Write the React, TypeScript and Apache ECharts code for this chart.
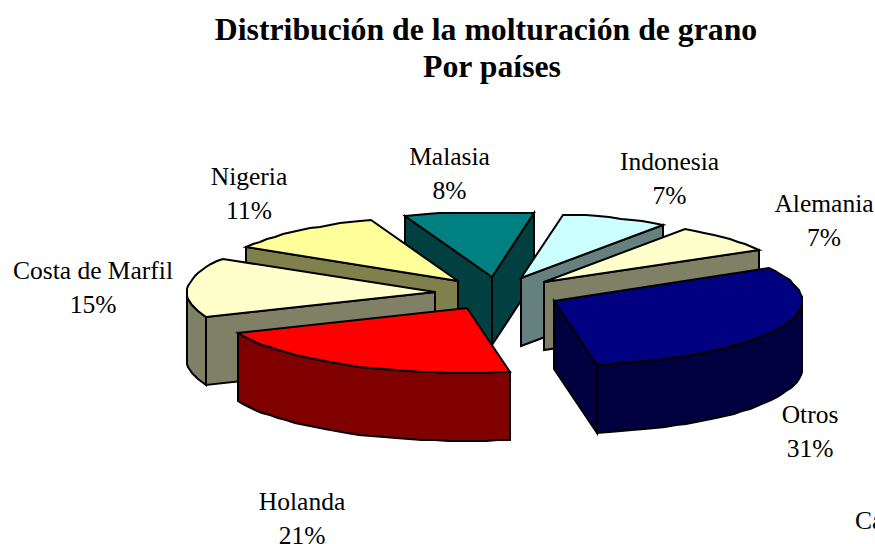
import React, { useEffect, useRef } from "react";
import * as echarts from "echarts";

const titleLines = ["Distribución de la molturación de grano", "Por países"];
const categories = ["Otros", "Holanda", "Costa de Marfil", "Nigeria", "Malasia", "Indonesia", "Alemania"];
const values = [31, 21, 15, 11, 8, 7, 7];
const topColors = ["#000080", "#FF0000", "#FFFFCC", "#FFFF99", "#008080", "#CCFFFF", "#FFFFCC"];
const sideColors = ["#000040", "#800000", "#808066", "#80804D", "#004040", "#668080", "#808066"];
const clippedLabel = "Ca";

// view geometry
const START_DEG = 60;
const CX = 497.6, CY = 293.5;
const RX = 248, RY = 65, DEPTH = 68, BACK_LIMIT = 63.5;
const EXPLODE_X = 62.7, EXPLODE_Y = 16.6;
const DRAW_ORDER = [4, 5, 3, 6, 2, 0, 1];
const LABEL_POS: Record<string, [number, number]> = {
  Otros: [810, 431],
  Holanda: [302, 518],
  "Costa de Marfil": [93, 287],
  Nigeria: [249, 193],
  Malasia: [449.5, 173],
  Indonesia: [669.5, 178],
  Alemania: [824, 220],
};

const rad = (d: number) => (d * Math.PI) / 180;

// Slight foreshortening of the view, front and back-left
const warp = (deg: number) => {
  const r = rad(deg);
  const front = Math.max(0, -Math.cos(r));
  const backLeft = Math.sin(r) < 0 ? Math.max(0, Math.cos(r)) : 0;
  return deg - 1.8 * Math.pow(front, 8) - 2.2 * Math.pow(backLeft, 8);
};

function arcPoints(ax: number, ay: number, a0: number, a1: number, dy = 0) {
  const pts: number[][] = [];
  const steps = Math.max(2, Math.ceil((a1 - a0) / 3));
  for (let i = 0; i <= steps; i++) {
    const t = rad(warp(a0 + ((a1 - a0) * i) / steps));
    const oy = Math.max(-RY * Math.cos(t), -BACK_LIMIT);
    pts.push([Math.round(ax + RX * Math.sin(t)), Math.round(ay + oy + dy)]);
  }
  return pts;
}

function renderSlice(params: any, api: any) {
  const idx = DRAW_ORDER[params.dataIndex];
  const total = values.reduce((a, b) => a + b, 0);
  const before = values.slice(0, idx).reduce((a, b) => a + b, 0);
  const a0 = START_DEG + (before / total) * 360;
  const a1 = a0 + (values[idx] / total) * 360;
  const mid = rad((a0 + a1) / 2);
  const ax = CX + EXPLODE_X * Math.sin(mid);
  const ay = CY - EXPLODE_Y * Math.cos(mid);
  const arc = arcPoints(ax, ay, a0, a1);
  const side = { fill: sideColors[idx], stroke: "#000", lineWidth: 2, lineJoin: "miter" };
  const children: any[] = [];
  const apex = [Math.round(ax), Math.round(ay)];
  const wall = (p: number[]) => ({
    type: "polygon",
    shape: { points: [apex, p, [p[0], p[1] + DEPTH], [apex[0], apex[1] + DEPTH]] },
    style: side,
  });
  if (Math.sin(rad(a0)) < 0) children.push(wall(arc[0]));
  if (Math.sin(rad(a1)) > 0) children.push(wall(arc[arc.length - 1]));
  const v0 = Math.max(a0, 90), v1 = Math.min(a1, 270);
  if (v1 > v0) {
    const upper = arcPoints(ax, ay, v0, v1);
    const lower = arcPoints(ax, ay, v0, v1, DEPTH).reverse();
    children.push({ type: "polygon", shape: { points: [...upper, ...lower] }, style: side });
  }
  children.push({
    type: "polygon",
    shape: { points: [apex, ...arc] },
    style: { fill: topColors[idx], stroke: "#000", lineWidth: 2, lineJoin: "miter" },
  });
  return { type: "group", children };
}

export default function App() {
  const ref = useRef<HTMLDivElement>(null);
  useEffect(() => {
    const chart = echarts.init(ref.current!, undefined, { renderer: "svg" });
    const font = "'Liberation Serif', 'Times New Roman', serif";
    chart.setOption({
      animation: false,
      backgroundColor: "#fff",
      series: [
        {
          type: "custom",
          coordinateSystem: "none",
          silent: true,
          renderItem: renderSlice,
          data: DRAW_ORDER.map((i) => [values[i]]),
        },
      ],
      graphic: [
        {
          type: "text",
          x: 486,
          y: 29,
          silent: true,
          style: { text: titleLines[0], font: `bold 31.75px ${font}`, align: "center", verticalAlign: "middle", fill: "#000" },
        },
        {
          type: "text",
          x: 492,
          y: 66,
          silent: true,
          style: { text: titleLines[1], font: `bold 31.75px ${font}`, align: "center", verticalAlign: "middle", fill: "#000" },
        },
        ...categories.map((c, i) => ({
          type: "text",
          x: LABEL_POS[c][0],
          y: LABEL_POS[c][1],
          silent: true,
          style: {
            text: `${c}\n${values[i]}%`,
            font: `25.5px ${font}`,
            lineHeight: 34,
            align: "center",
            verticalAlign: "middle",
            fill: "#000",
          },
        })),
        {
          type: "text",
          x: 855,
          y: 520,
          silent: true,
          style: { text: clippedLabel, font: `25.5px ${font}`, align: "left", verticalAlign: "middle", fill: "#000" },
        },
      ],
    });
    return () => chart.dispose();
  }, []);
  return <div ref={ref} style={{ position: "absolute", left: 0, top: 0, width: 875, height: 544, overflow: "hidden" }} />;
}
